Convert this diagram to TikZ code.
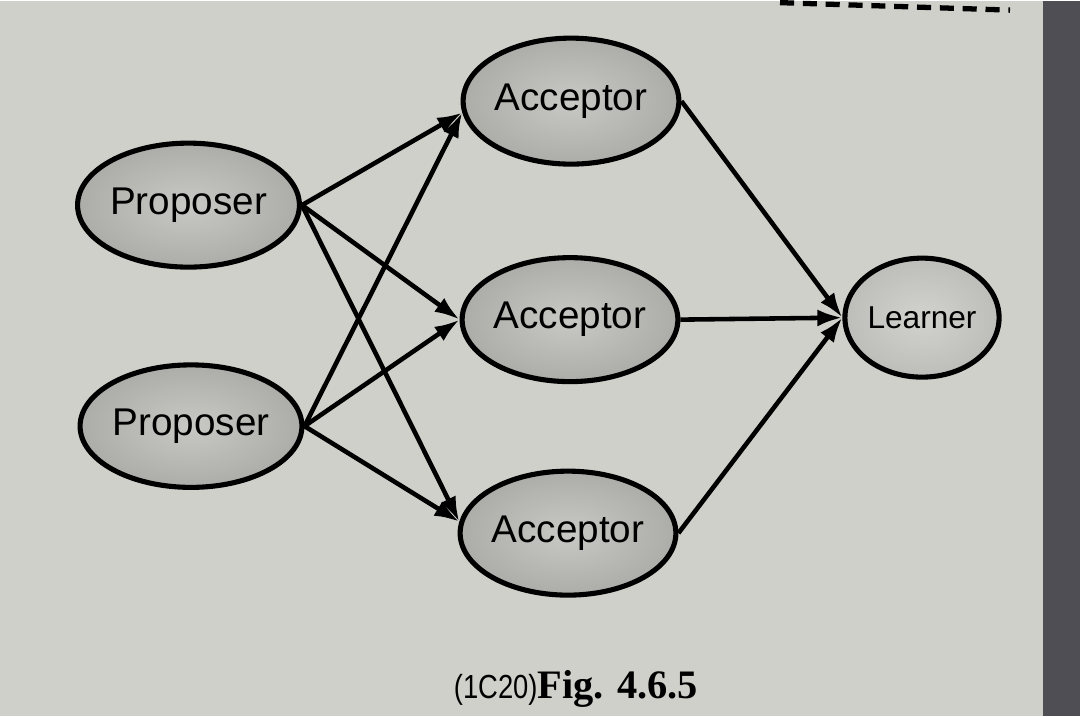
\documentclass[tikz,border=0pt]{standalone}
\usepackage{fontspec}
\setmainfont{Liberation Serif}
\setsansfont{Liberation Sans}
\usetikzlibrary{shapes.geometric,arrows.meta}
\definecolor{paper}{RGB}{208,208,203}
\definecolor{pagedge}{RGB}{78,78,84}
\definecolor{rolerim}{RGB}{172,172,168}
\definecolor{rolemid}{RGB}{200,200,196}

\begin{document}
\begin{tikzpicture}[
    role/.style={ellipse, draw, line width=2.9pt, inner sep=0pt, inner color=rolemid, outer color=rolerim,
      font=\sffamily\fontsize{22}{24}\selectfont},
    msg/.style={-{Latex[length=5mm,width=3.4mm]}, line width=2.6pt}
  ]
  \fill[paper] (0,0) rectangle (21.6,14.3);
  \fill[pagedge] (20.85,0) rectangle (21.6,14.3);
  \draw[line width=3pt, dash pattern=on 8pt off 5pt] (15.6,14.27) -- (20.2,14.12);

  \node[role, minimum width=3.98cm, minimum height=2.48cm] (p1) at (3.77,10.22) {Proposer};
  \node[role, minimum width=3.98cm, minimum height=2.45cm] (p2) at (3.82,5.8) {Proposer};
  \node[role, minimum width=4.28cm, minimum height=2.52cm] (a1) at (11.42,12.3) {Acceptor};
  \node[role, minimum width=4.24cm, minimum height=2.48cm] (a2) at (11.4,7.93) {Acceptor};
  \node[role, minimum width=4.16cm, minimum height=2.48cm] (a3) at (11.36,3.66) {Acceptor};
  \node[role, minimum width=3.08cm, minimum height=2.38cm, inner color=paper!95!white, outer color=rolerim!80!white,
    font=\sffamily\fontsize{18}{20}\selectfont] (lrn) at (18.44,7.97) {Learner};

  \foreach \p in {p1,p2} {
    \draw[msg] (\p.east) -- (a1.186);
    \draw[msg] (\p.east) -- (a2.west);
    \draw[msg] (\p.east) -- (a3.174);
  }
  \foreach \a in {a1,a2,a3}
    \draw[msg] (\a.east) -- (lrn.west);

  \node (cap) at (11.52,0.54) {\scalebox{0.82}[1]{\sffamily\fontsize{19}{21}\selectfont(1C20)}{\bfseries\fontsize{23}{26}\selectfont Fig. 4.6.5}};
\end{tikzpicture}
\end{document}
